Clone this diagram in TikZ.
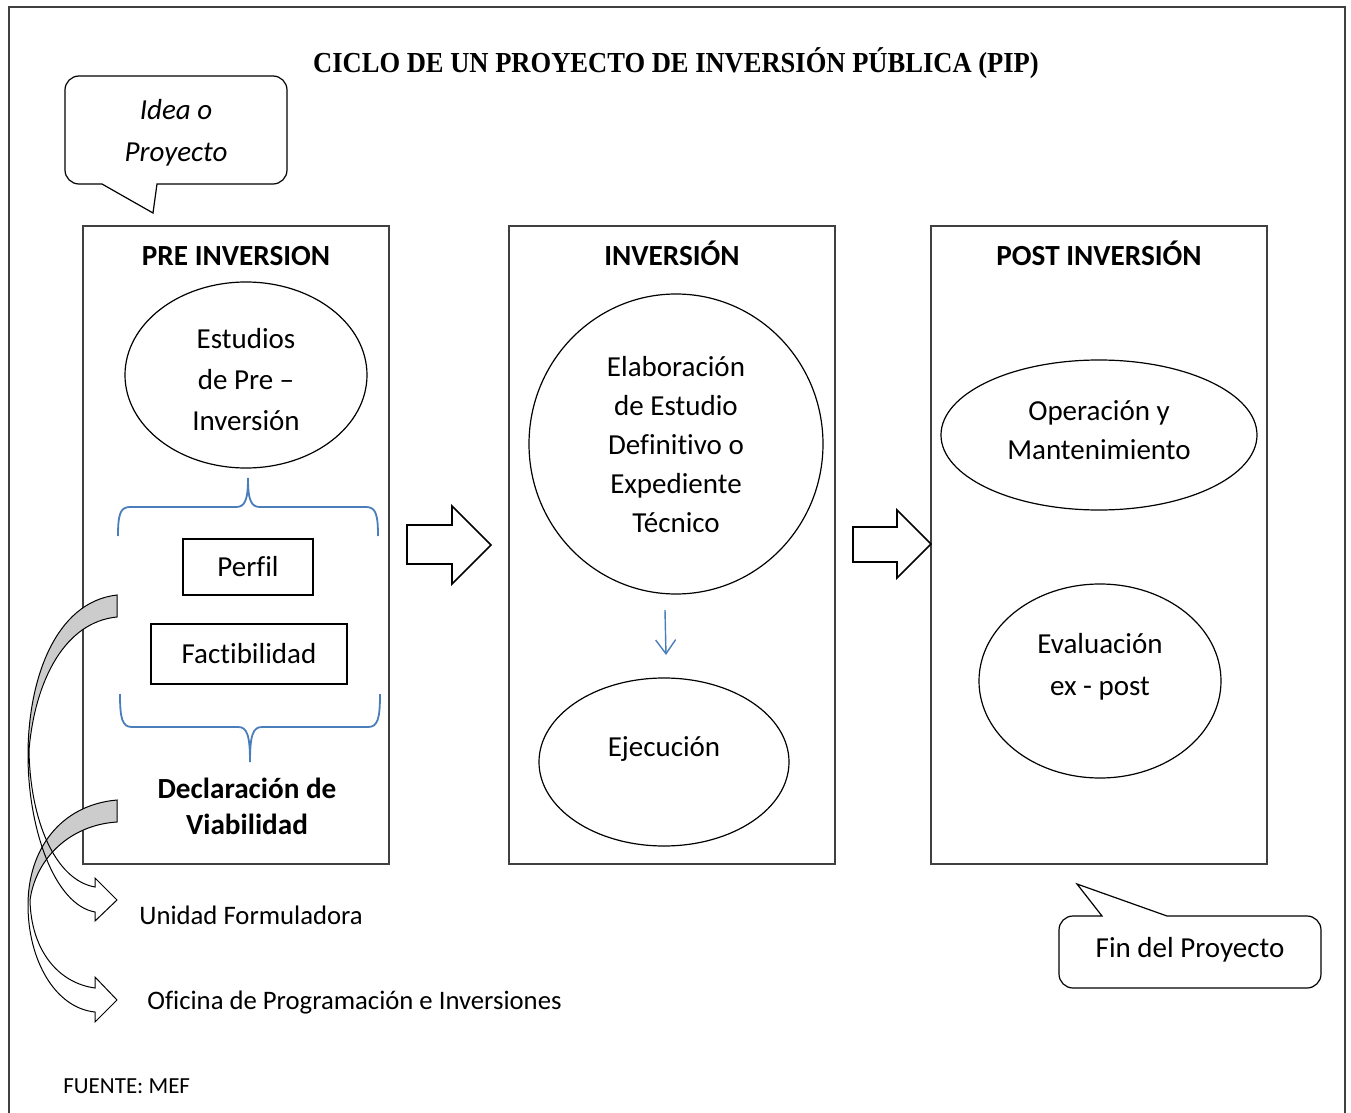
\documentclass[tikz,border=0pt]{standalone}
\usepackage{fontspec}
\setmainfont{Carlito}[Ligatures=NoCommon]
\newfontfamily\titlefont{Liberation Serif}
\usetikzlibrary{shapes.geometric,arrows.meta}
\definecolor{framec}{HTML}{404040}
\definecolor{braceblue}{HTML}{4A7EBB}
\begin{document}
\begin{tikzpicture}[x=0.5pt,y=-0.5pt,
  stage/.style={draw=framec, line width=0.8pt, minimum height=319pt, inner sep=0pt},
  head/.style={font=\fontsize{14.6}{17}\selectfont\bfseries, inner sep=0pt, anchor=base},
  ell/.style={draw=black, ellipse, line width=0.6pt, inner sep=0pt},
  etext/.style={align=center, inner sep=0pt, font=\fontsize{14.5}{20.5}\selectfont},
  rbox/.style={draw=black, line width=0.6pt, inner sep=0pt, font=\fontsize{14.5}{17}\selectfont},
  lbl/.style={inner sep=0pt, anchor=west, font=\fontsize{13.35}{16}\selectfont},
  bubble/.style={draw=black, line width=0.6pt},
  blockarrow/.style={draw=black, line width=0.8pt, fill=white},
  curved/.style={draw=black, line width=0.5pt},
  bracec/.style={draw=braceblue, line width=0.9pt}
]
\useasboundingbox (0,0) rectangle (1351,1113);
\draw[framec, line width=0.8pt] (9,1114) -- (9,7) -- (1345,7) -- (1345,1114);

% title
\node[font=\titlefont\fontsize{14.5}{17}\selectfont\bfseries] (title) at (676,63) {\scalebox{0.915}[1]{CICLO DE UN PROYECTO DE INVERSIÓN PÚBLICA (PIP)}};

% Idea callout
\node[align=center, font=\fontsize{14.5}{21}\selectfont\itshape] (idea) at (176,133) {Idea o\\Proyecto};
\draw[bubble] (157,184) [rounded corners=7pt] -- (287,184) -- (287,76) -- (65,76) -- (65,184) [sharp corners] -- (102,184) -- (153,213) -- cycle;

% stage boxes
\node[stage, minimum width=153pt] (pre) at (236,545) {};
\node[stage, minimum width=163pt] (inv) at (672,545) {};
\node[stage, minimum width=168pt] (post) at (1099,545) {};

\node[head] (preh) at (236,265) {PRE INVERSION};
\node[head] (invh) at (672,265) {INVERSIÓN};
\node[head] (posth) at (1099,265) {POST INVERSIÓN};

% pre inversion contents
\node[ell, minimum width=121pt, minimum height=93pt] (estudios) at (246,375) {};
\node[etext] (estudiost) at (246,380) {Estudios\\de Pre –\\Inversión};
\draw[bracec] (118,536) .. controls (118,515) and (120,507) .. (130,507) -- (236,507) .. controls (245,507) and (248,500) .. (248,478) .. controls (248,500) and (251,507) .. (260,507) -- (366,507) .. controls (376,507) and (378,515) .. (378,536);
\node[rbox, minimum width=65pt, minimum height=28pt] (perfil) at (248,567) {Perfil};
\node[rbox, minimum width=98pt, minimum height=30pt] (fact) at (249,654) {Factibilidad};
\draw[bracec] (120,694) .. controls (120,718) and (122,727) .. (132,727) -- (238,727) .. controls (247,727) and (250,735) .. (250,762) .. controls (250,735) and (253,727) .. (262,727) -- (368,727) .. controls (378,727) and (380,718) .. (380,694);
\node[align=center, font=\fontsize{14.6}{18}\selectfont\bfseries] (decl) at (247,806) {Declaración de\\Viabilidad};

% inversion contents
\node[ell, minimum width=147pt, minimum height=150pt] (elab) at (676,444) {};
\node[etext, font=\fontsize{14.5}{19.5}\selectfont] (elabt) at (676,445) {Elaboración\\de Estudio\\Definitivo o\\Expediente\\Técnico};
\node[ell, minimum width=125pt, minimum height=84pt] (ejec) at (664,762) {};
\node[etext] (eject) at (664,749) {Ejecución};
\coordinate (ba) at (665,610);
\coordinate (bb) at (666,655);
\draw[braceblue, line width=0.7pt, -{Straight Barb[length=7pt,width=10pt]}] (ba) -- (bb);

% post inversion contents
\node[ell, minimum width=158pt, minimum height=75pt] (oper) at (1099,435) {};
\node[etext, font=\fontsize{14.5}{19.5}\selectfont] (opert) at (1099,430) {Operación y\\Mantenimiento};
\node[ell, minimum width=121pt, minimum height=97pt] (eval) at (1100,681) {};
\node[etext, font=\fontsize{14.5}{21}\selectfont] (evalt) at (1100,667) {Evaluación\\ex - post};

% block arrows
\draw[blockarrow] (407,525) -- (452,525) -- (452,506) -- (491,545) -- (452,584) -- (452,564) -- (407,564) -- cycle;
\draw[blockarrow] (853,527) -- (897,527) -- (897,510) -- (931,544) -- (897,578) -- (897,562) -- (853,562) -- cycle;

% Fin callout
\node[font=\fontsize{14.5}{17}\selectfont] (fin) at (1190,950) {Fin del Proyecto};
\draw[bubble] (1167,916) [rounded corners=7pt] -- (1321,916) -- (1321,988) -- (1059,988) -- (1059,916) [sharp corners] -- (1102,916) -- (1077,884) -- cycle;

% labels
\node[lbl] (uf) at (139,915) {Unidad Formuladora};
\node[lbl] (opi) at (147,1003) {Oficina de Programación e Inversiones};
\node[lbl, font=\fontsize{11.5}{14}\selectfont] (fuente) at (63,1086) {FUENTE: MEF};

% curved arrows
\fill[gray!40] (117,800) .. controls (60,805) and (28,850) .. (28,905) .. controls (35,860) and (70,825) .. (117,822) -- cycle;
\draw[curved] (117,800) .. controls (60,805) and (28,850) .. (28,905) .. controls (28,960) and (55,1008) .. (95,1012) -- (95,1022) -- (117,1000) -- (95,977) -- (95,988) .. controls (58,983) and (31,950) .. (30,900) .. controls (36,858) and (70,825) .. (117,822) -- cycle;
\fill[gray!40] (117,595) .. controls (55,602) and (28,680) .. (28,755) .. controls (33,680) and (65,622) .. (117,617) -- cycle;
\draw[curved] (117,595) .. controls (55,602) and (28,680) .. (28,755) .. controls (28,830) and (55,905) .. (95,912) -- (95,921) -- (117,900) -- (95,878) -- (95,887) .. controls (55,880) and (30,820) .. (29,750) .. controls (35,680) and (65,622) .. (117,617) -- cycle;
\end{tikzpicture}
\end{document}
